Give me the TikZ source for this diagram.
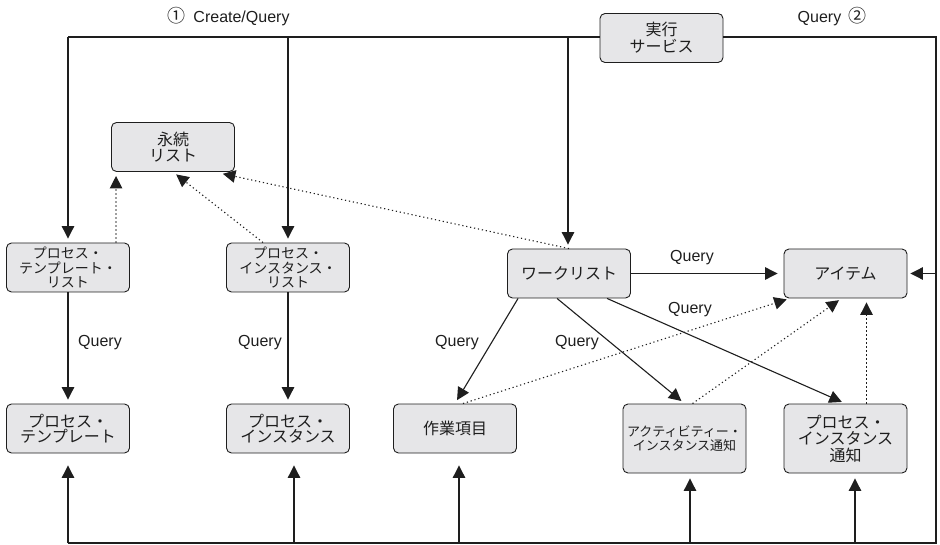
\documentclass[tikz,border=0pt]{standalone}
\usepackage{fontspec}
\setmainfont{Liberation Sans}
\newfontfamily\cjk{Noto Sans CJK JP}
\usetikzlibrary{arrows.meta,calc}
\definecolor{boxfill}{RGB}{230,230,232}
\definecolor{ink}{RGB}{30,30,30}
\newcommand\cjksize[2]{\cjk\fontsize{#1}{#2}\selectfont\lineskiplimit-20pt\relax}
\newcommand\circnum[1]{{\cjk\fontsize{18}{18}\selectfont #1}}

\begin{document}
\begin{tikzpicture}[x=1pt,y=-1pt,
  box/.style={draw=ink, line width=0.9pt, fill=boxfill, rounded corners=5pt,
    minimum width=123pt, minimum height=49pt, inner sep=0pt, align=center,
    text=ink, font={\cjksize{16}{16}}},
  tall/.style={box, minimum height=69pt},
  cjkfont/.style 2 args={font={\cjksize{#1}{#2}}},
  lbl/.style={font=\fontsize{16}{16}\selectfont, text=ink, inner sep=0pt},
  wire/.style={draw=ink, line width=1.1pt},
  arr/.style={wire, -{Triangle[length=12.5pt,width=12.5pt]}, shorten >=4pt},
  dots/.style={arr, dash pattern=on 1.2pt off 2.8pt},
]
\useasboundingbox (0,0) rectangle (940,545);

% boxes
\node[box] (eiz) at (173,147) {永続\\リスト};
\node[box, cjkfont={16}{17}] (jikko) at (661.5,38) {実行\\サービス};
\node[box, cjkfont={14}{14.5}] (ptl) at (68,267.5) {プロセス・\\テンプレート・\\リスト};
\node[box, cjkfont={14}{14.5}] (pil) at (288,267.5) {プロセス・\\インスタンス・\\リスト};
\node[box] (wl) at (569,273.5) {ワークリスト};
\node[box] (item) at (845.5,273.5) {アイテム};
\node[box, cjkfont={16}{14.5}] (pt) at (68,428.5) {プロセス・\\テンプレート};
\node[box, cjkfont={16}{14.5}] (pi) at (288,428.5) {プロセス・\\インスタンス};
\node[box] (wi) at (455,428.5) {作業項目};
\node[tall, cjkfont={13}{14}] (ain) at (684.5,438.5) {アクティビティー・\\インスタンス通知};
\node[tall, cjkfont={16}{16.5}] (pin) at (845.5,438.5) {プロセス・\\インスタンス\\通知};

% bus corners and taps
\coordinate (tl) at (68,37);
\coordinate (tr) at (936,37);
\coordinate (bl) at (68,543);
\coordinate (br) at (936,543);
\coordinate (wtop) at (568,37);
\coordinate (b2) at (294,543);
\coordinate (b3) at (459,543);
\coordinate (b4) at (690,543);
\coordinate (b5) at (855,543);

% top bus
\draw[wire] (jikko.west |- tl) -- (tl);
\draw[arr] (tl) -- (ptl.north);
\draw[arr] (tl -| pil.north) -- (pil.north);
\draw[arr] (wtop) -- (wtop |- wl.north);
\draw[wire] (jikko.east |- tr) -- (tr) -- (br) -- (bl);
\draw[arr, shorten >=3pt] (item.east -| br) -- (item.east);

% bottom bus
\draw[arr, shorten >=12pt] (bl) -- (pt.south);
\draw[arr, shorten >=12pt] (b2) -- (b2 |- pi.south);
\draw[arr, shorten >=12pt] (b3) -- (b3 |- wi.south);
\draw[arr, shorten >=5pt] (b4) -- (b4 |- ain.south);
\draw[arr, shorten >=5pt] (b5) -- (b5 |- pin.south);

% queries
\draw[arr] (ptl.south) -- (pt.north);
\draw[arr] (pil.south) -- (pi.north);
\draw[arr, shorten >=6pt] (wl.east) -- (item.west);
\draw[arr] ($(wl.south west)+(11,0)$) -- (wi.north);
\draw[arr] ($(wl.south west)+(50,0)$) -- (ain.north);
\draw[arr] ($(wl.south west)+(100,0)$) -- (pin.north);

% references
\draw[dots] ($(ptl.north)+(48,0)$) -- ($(eiz.south west)+(5,0)$);
\draw[dots] ($(pil.north)+(-25,0)$) -- (eiz.south);
\draw[dots] (wl.north) -- ($(eiz.south east)+(-16,1)$);
\draw[dots, shorten >=3pt] ($(wi.north)+(8,0)$) -- ($(item.south west)+(6,0)$);
\draw[dots, shorten >=3pt] ($(ain.north)+(8,0)$) -- ($(item.south)+(-4,0)$);
\draw[dots] ($(pin.north)+(21,0)$) -- ($(item.south)+(21,0)$);

% labels
\node[lbl] (cq) at (228.5,17) {\circnum{①}\hspace{8pt}Create/Query};
\node[lbl] (q2) at (832,17) {Query\hspace{7pt}\circnum{②}};
\node[lbl] (q3) at (100,343) {Query};
\node[lbl] (q4) at (260,343) {Query};
\node[lbl] (q5) at (457,343) {Query};
\node[lbl] (q6) at (577,343) {Query};
\node[lbl] (q7) at (692,258) {Query};
\node[lbl] (q8) at (690,310) {Query};
\end{tikzpicture}
\end{document}
